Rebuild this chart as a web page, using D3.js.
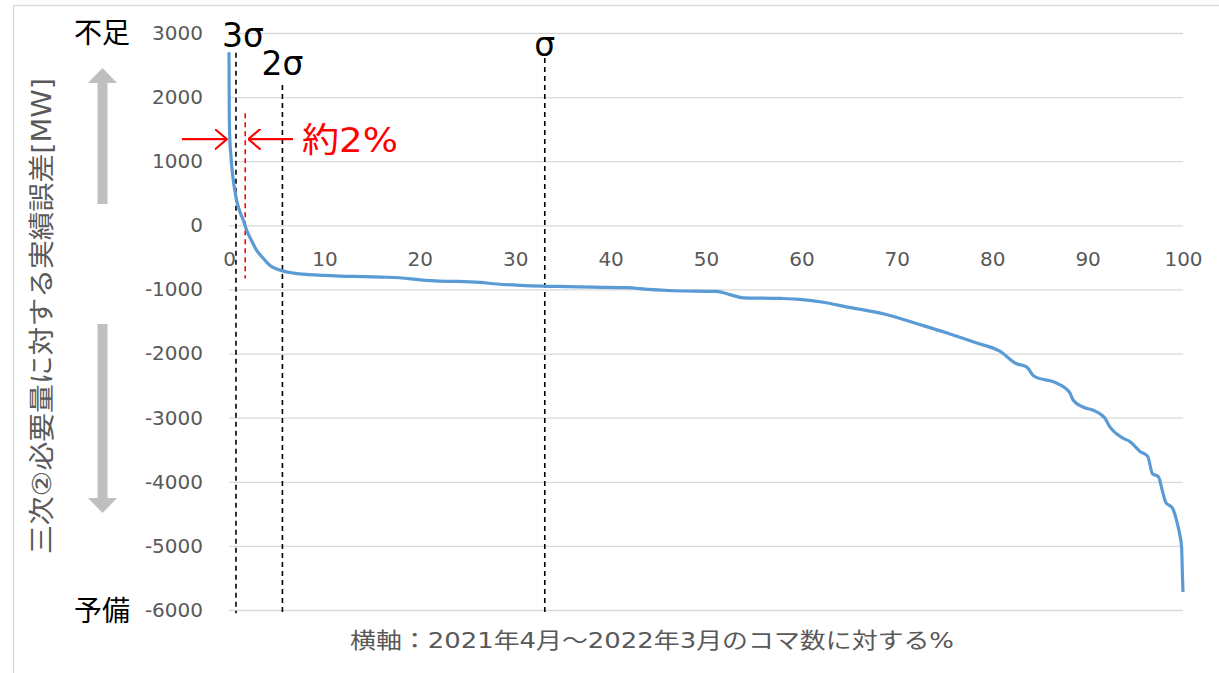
<!DOCTYPE html>
<html>
<head>
<meta charset="utf-8">
<script src="https://cdn.jsdelivr.net/npm/d3@7"></script>
<style>
  body { margin: 0; background: #fff; }
  svg { display: block; }
</style>
</head>
<body>
<script>
'use strict';

// duration curve: % of periods (x) vs error [MW] (y)
const pct = [0, 0.03, 0.1, 0.18, 0.3, 0.45, 0.6, 0.8, 1.15, 1.5, 1.85, 2.3, 2.9, 3.5, 4.3, 5.0, 5.7, 6.8, 8.1, 10,
  11.6, 14, 16, 17.9, 20, 22, 24, 26.3, 28.1, 30.5, 32.9, 35.5, 38.2, 41.7, 44, 46.5, 51.1, 52.5, 53.9, 57.8,
  59.5, 62.3, 64.7, 68.9, 72.4, 75.2, 78.3, 80.8, 82.5, 83.6, 84.4, 86.7, 88.1, 88.5, 89.5, 90.6, 91.8, 92.3,
  93.7, 94.4, 95.5, 96.3, 96.8, 97.4, 97.9, 98.2, 98.9, 99.4, 99.7, 99.85, 99.95, 100];
const errMW = [2700, 1700, 1300, 1125, 900, 703, 550, 390, 208, 78, -78, -220, -390, -500, -625, -680, -714, -745, -766, -780,
  -792, -800, -808, -818, -850, -870, -875, -891, -915, -935, -948, -955, -964, -971, -1000, -1020, -1031, -1080, -1130, -1140,
  -1151, -1200, -1271, -1390, -1547, -1677, -1833, -1964, -2156, -2208, -2354, -2458, -2604, -2729, -2833, -2885, -3005, -3135,
  -3318, -3370, -3526, -3604, -3875, -3917, -4177, -4323, -4411, -4646, -4854, -5010, -5500, -5720];

const yTicks = [3000, 2000, 1000, 0, -1000, -2000, -3000, -4000, -5000, -6000];
const xTicks = [0, 10, 20, 30, 40, 50, 60, 70, 80, 90, 100];

// sigma markers: position (%), label, top of dashed line (MW)
const sigmaPos = [0.73, 5.6, 33.1];
const sigmaLabels = ["3σ", "2σ", "σ"];
const sigmaTop = [2690, 2190, 2610];

const redPos = 1.7;
const redLabel = "約2%";

const yTitle = "三次②必要量に対する実績誤差[MW]";
const xTitle = "横軸：2021年4月～2022年3月のコマ数に対する%";

const W = 1219, H = 673;
const latin = "'DejaVu Sans', 'Noto Sans CJK JP', sans-serif";
const cjk = "'Noto Sans CJK JP', sans-serif";

const svg = d3.select("body").append("svg")
  .attr("width", W)
  .attr("height", H);

// chart frame
svg.append("rect")
  .attr("x", 13.5).attr("y", 5.5)
  .attr("width", 1300).attr("height", 700)
  .attr("fill", "none")
  .attr("stroke", "#d9d9d9")
  .attr("stroke-width", 1.3);

const x = d3.scaleLinear().domain([0, 100]).range([229, 1183]);
const y = d3.scaleLinear().domain([-6000, 3000]).range([610, 33]);

// gridlines
svg.append("g")
  .attr("transform", "translate(" + x(0) + ",0)")
  .call(d3.axisLeft(y).tickValues(yTicks).tickSize(-(x(100) - x(0))).tickFormat(""))
  .call(g => g.select(".domain").remove())
  .call(g => g.selectAll("line").attr("stroke", "#d9d9d9").attr("stroke-width", 1.3));

// y labels (plain hyphen minus like the original)
svg.append("g")
  .attr("transform", "translate(" + x(0) + ",0)")
  .call(d3.axisLeft(y).tickValues(yTicks).tickSize(0).tickPadding(26).tickFormat(d => String(d)))
  .call(g => g.select(".domain").remove())
  .call(g => g.selectAll("text")
    .attr("font-family", latin).attr("font-size", 20).attr("fill", "#595959"));

// x labels sit below the zero line
svg.append("g")
  .attr("transform", "translate(0," + y(0) + ")")
  .call(d3.axisBottom(x).tickValues(xTicks).tickSize(0).tickPadding(26))
  .call(g => g.select(".domain").remove())
  .call(g => g.selectAll("text")
    .attr("font-family", latin).attr("font-size", 20).attr("fill", "#595959"));

// dashed sigma lines
sigmaPos.forEach(function(p, i) {
  svg.append("line")
    .attr("x1", x(p)).attr("x2", x(p))
    .attr("y1", y(sigmaTop[i])).attr("y2", y(-6050))
    .attr("stroke", "#000")
    .attr("stroke-width", 1.6)
    .attr("stroke-dasharray", "5,4");
});

svg.append("line")
  .attr("x1", x(redPos)).attr("x2", x(redPos))
  .attr("y1", y(1750)).attr("y2", y(-830))
  .attr("stroke", "#ff0000")
  .attr("stroke-width", 1.6)
  .attr("stroke-dasharray", "5,4");

// the curve
const line = d3.line()
  .x((d, i) => x(pct[i]))
  .y(d => y(d))
  .curve(d3.curveMonotoneX);

svg.append("path")
  .datum(errMW)
  .attr("d", line)
  .attr("fill", "none")
  .attr("stroke", "#5b9bd5")
  .attr("stroke-width", 3.2)
  .attr("stroke-linejoin", "round");

// sigma labels
const labelX = [x(0) + 14, x(5.6), x(33.1)];
const labelY = [47, 75, 56];
sigmaLabels.forEach(function(t, i) {
  svg.append("text")
    .attr("x", labelX[i]).attr("y", labelY[i])
    .attr("text-anchor", "middle")
    .attr("font-family", latin)
    .attr("font-size", 33)
    .attr("fill", "#000")
    .text(t);
});

// red arrows around the 2% gap
const arrowY = y(1344);
svg.append("defs").append("marker")
  .attr("id", "redhead")
  .attr("viewBox", "0 0 10 16")
  .attr("refX", 9.5).attr("refY", 8)
  .attr("markerWidth", 13).attr("markerHeight", 21)
  .attr("markerUnits", "userSpaceOnUse")
  .attr("orient", "auto")
  .append("path")
  .attr("d", "M0,0 L9.5,8 L0,16")
  .attr("fill", "none")
  .attr("stroke", "#ff0000")
  .attr("stroke-width", 1.6);

svg.append("line")
  .attr("x1", 182).attr("x2", x(0) - 2)
  .attr("y1", arrowY).attr("y2", arrowY)
  .attr("stroke", "#ff0000").attr("stroke-width", 2.2)
  .attr("marker-end", "url(#redhead)");
svg.append("line")
  .attr("x1", 293).attr("x2", x(redPos) + 3)
  .attr("y1", arrowY).attr("y2", arrowY)
  .attr("stroke", "#ff0000").attr("stroke-width", 2.2)
  .attr("marker-end", "url(#redhead)");

svg.append("text")
  .attr("x", 302).attr("y", 152)
  .attr("font-family", latin)
  .attr("font-size", 34)
  .attr("fill", "#ff0000")
  .attr("textLength", 96)
  .attr("lengthAdjust", "spacingAndGlyphs")
  .text(redLabel);

// 不足 / 予備
svg.append("text")
  .attr("x", 102).attr("y", 43)
  .attr("text-anchor", "middle")
  .attr("font-family", cjk).attr("font-size", 28).attr("fill", "#000")
  .text("不足");
svg.append("text")
  .attr("x", 102).attr("y", 621)
  .attr("text-anchor", "middle")
  .attr("font-family", cjk).attr("font-size", 28).attr("fill", "#000")
  .text("予備");

// gray block arrows
const gray = "#bfbfbf";
svg.append("path")
  .attr("d", "M102.5,68 L117,83 L107.5,83 L107.5,204 L97.5,204 L97.5,83 L88,83 Z")
  .attr("fill", gray);
svg.append("path")
  .attr("d", "M97.5,324 L107.5,324 L107.5,498 L117,498 L102.5,513 L88,498 L97.5,498 Z")
  .attr("fill", gray);

// axis titles
svg.append("text")
  .attr("transform", "translate(51,316) rotate(-90)")
  .attr("text-anchor", "middle")
  .attr("font-family", latin).attr("font-size", 26).attr("fill", "#595959")
  .attr("textLength", 476)
  .attr("lengthAdjust", "spacingAndGlyphs")
  .text(yTitle);

svg.append("text")
  .attr("x", 652).attr("y", 648)
  .attr("text-anchor", "middle")
  .attr("font-family", latin).attr("font-size", 22).attr("fill", "#595959")
  .attr("textLength", 604)
  .attr("lengthAdjust", "spacingAndGlyphs")
  .text(xTitle);
</script>
</body>
</html>
